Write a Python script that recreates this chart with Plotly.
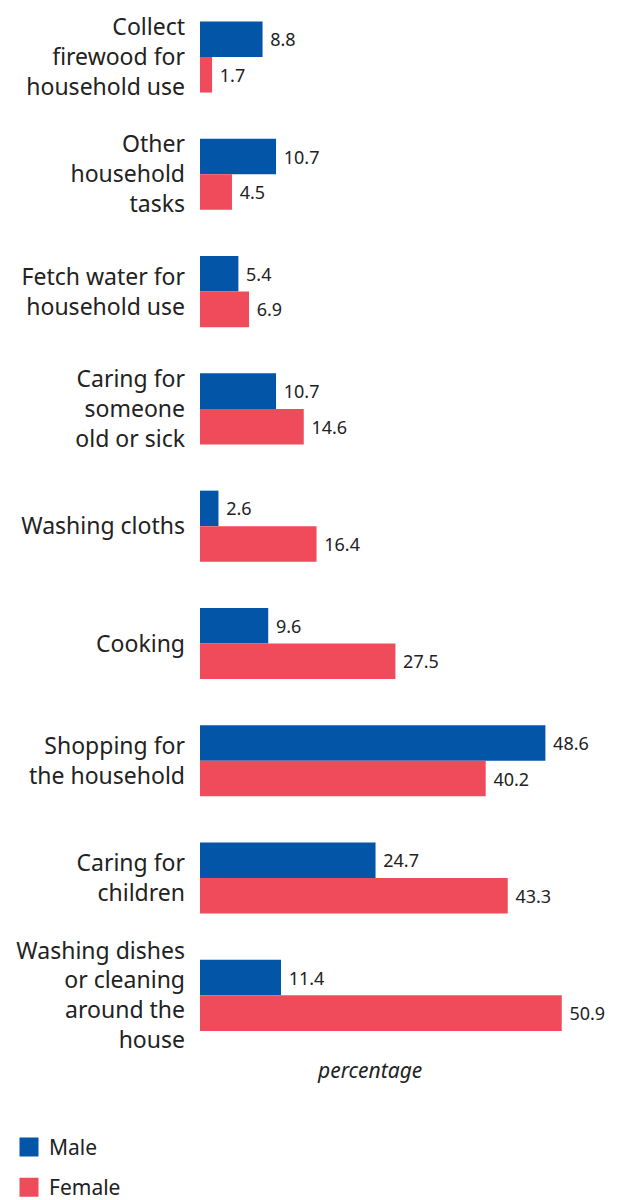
import plotly.graph_objects as go

categories = [
    "Collect<br>firewood for<br>household use",
    "Other<br>household<br>tasks",
    "Fetch water for<br>household use",
    "Caring for<br>someone<br>old or sick",
    "Washing cloths",
    "Cooking",
    "Shopping for<br>the household",
    "Caring for<br>children",
    "Washing dishes<br>or cleaning<br>around the<br>house",
]
male = [8.8, 10.7, 5.4, 10.7, 2.6, 9.6, 48.6, 24.7, 11.4]
female = [1.7, 4.5, 6.9, 14.6, 16.4, 27.5, 40.2, 43.3, 50.9]

BLUE = "#0355A7"
RED = "#EF4B5B"
TXT = "#222222"

fig = go.Figure()
for name, vals, col in [("Male", male, BLUE), ("Female", female, RED)]:
    fig.add_trace(go.Bar(
        y=categories, x=vals, orientation="h", name=name,
        marker=dict(color=col, line=dict(width=0)),
        texttemplate=" %{x:.1f}", textposition="outside",
        textfont=dict(family="Noto Sans", size=18, color=TXT),
        cliponaxis=False, showlegend=False,
    ))
    fig.add_trace(go.Scatter(
        x=[None], y=[None], mode="markers", name=name,
        marker=dict(symbol="square", size=16, color=col, line=dict(color=col, width=3)),
        legendgroup=name, showlegend=True,
    ))

fig.update_layout(
    width=625, height=1200,
    margin=dict(l=200, r=0, t=0, b=146, autoexpand=False),
    plot_bgcolor="white", paper_bgcolor="white",
    barmode="group", bargap=0.394, bargroupgap=0,
    font=dict(family="Noto Sans", color=TXT),
    legend=dict(
        xref="container", yref="container", x=0.0144, y=0.061,
        xanchor="left", yanchor="top",
        font=dict(size=21, color=TXT, family="Noto Sans"),
        tracegroupgap=10, bgcolor="rgba(0,0,0,0)",
    ),
    annotations=[dict(
        text="<i>percentage</i>", xref="paper", yref="paper", x=0.398, y=0,
        xanchor="center", yanchor="middle", yshift=-16, showarrow=False,
        font=dict(size=21, color=TXT, family="Noto Sans"),
    )],
)
fig.update_xaxes(
    range=[0, 59.8], showgrid=False, zeroline=False, showticklabels=False,
    automargin=False,
)
fig.update_yaxes(
    type="category", range=[8.5, -0.486], showgrid=False, zeroline=False,
    tickfont=dict(size=23, color=TXT), ticklabelstandoff=14, automargin=False,
)
fig.write_html("out.html")
